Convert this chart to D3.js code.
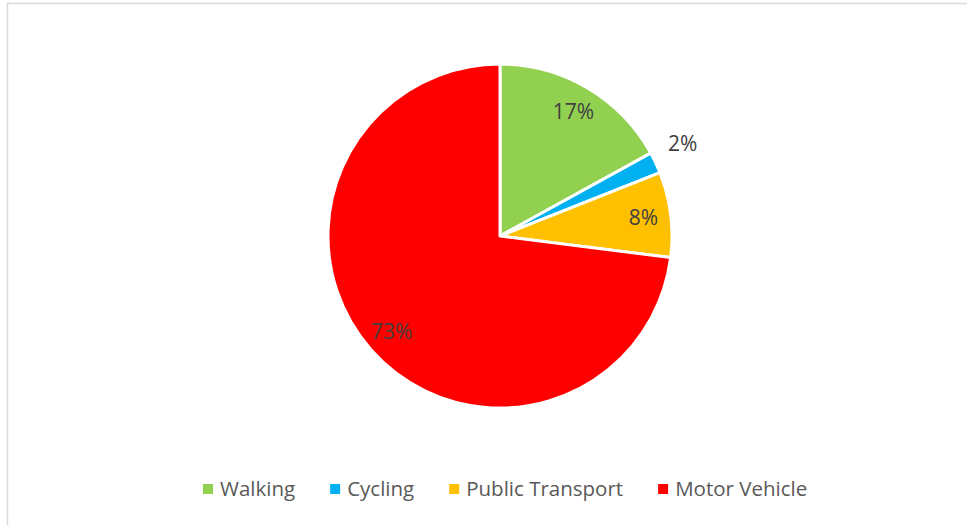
<!doctype html>
<html lang="en">
<head>
  <meta charset="utf-8">
  <title>Travel mode share</title>
  <script type="text/javascript" src="https://cdnjs.cloudflare.com/ajax/libs/d3/7.8.5/d3.min.js"></script>
  <style>
    body { margin: 0; background: #fff; }
    text { font-family: "Open Sans", "Noto Sans", sans-serif; }
  </style>
</head>
<body>
  <svg width="967" height="525" id="svg"></svg>
</body>
<script type="text/javascript">

  // data
  var modes = ['Walking', 'Cycling', 'Public Transport', 'Motor Vehicle'];
  var shares = [17, 2, 8, 73];
  var colours = ['#92D050', '#00B0F0', '#FFC000', '#FF0000'];

  var width = 967, height = 525;
  var cx = 500, cy = 236, radius = 172;

  var svg = d3.select('#svg');

  // chart area border (only top and left edges show in the picture)
  svg.append('rect')
    .attr('x', 7.5).attr('y', 3.5)
    .attr('width', width).attr('height', height)
    .attr('fill', '#fff')
    .attr('stroke', '#d9d9d9')
    .attr('stroke-width', 1.5);

  var color = d3.scaleOrdinal().domain(modes).range(colours);

  var data = modes.map(function(m, i) { return {mode: m, value: shares[i]}; });

  var pie = d3.pie()
    .sort(null)
    .value(function(d) { return d.value; });

  var arc = d3.arc().innerRadius(0).outerRadius(radius);
  var labelArc = d3.arc().innerRadius(radius * 0.84).outerRadius(radius * 0.84);
  var outerArc = d3.arc().innerRadius(radius + 30).outerRadius(radius + 30);

  var g = svg.append('g').attr('transform', 'translate(' + cx + ',' + cy + ')');

  var arcs = pie(data);

  g.selectAll('path')
    .data(arcs)
    .enter().append('path')
    .attr('d', arc)
    .attr('fill', function(d) { return color(d.data.mode); })
    .attr('stroke', '#fff')
    .attr('stroke-width', 3)
    .attr('stroke-linejoin', 'round');

  g.selectAll('text.lbl')
    .data(arcs)
    .enter().append('text')
    .attr('class', 'lbl')
    .attr('transform', function(d) {
      // small slices get their label just outside the pie
      var c = d.data.value < 5 ? outerArc.centroid(d) : labelArc.centroid(d);
      if (d.data.value < 5) c[1] -= 6;
      return 'translate(' + c + ')';
    })
    .attr('text-anchor', 'middle')
    .attr('dy', '0.35em')
    .attr('fill', '#404040')
    .style('font-size', '21px')
    .text(function(d) { return d.data.value + '%'; });

  // legend
  var legend = svg.append('g').attr('transform', 'translate(0,489)');
  var x = 203;
  modes.forEach(function(m) {
    var item = legend.append('g').attr('transform', 'translate(' + x + ',0)');
    item.append('rect')
      .attr('x', 0).attr('y', -5)
      .attr('width', 10).attr('height', 10)
      .attr('fill', color(m));
    var t = item.append('text')
      .attr('x', 17)
      .attr('dy', '0.35em')
      .attr('fill', '#595959')
      .style('font-size', '20.5px')
      .text(m);
    x += 17 + t.node().getComputedTextLength() + 35;
  });

</script>
</html>
